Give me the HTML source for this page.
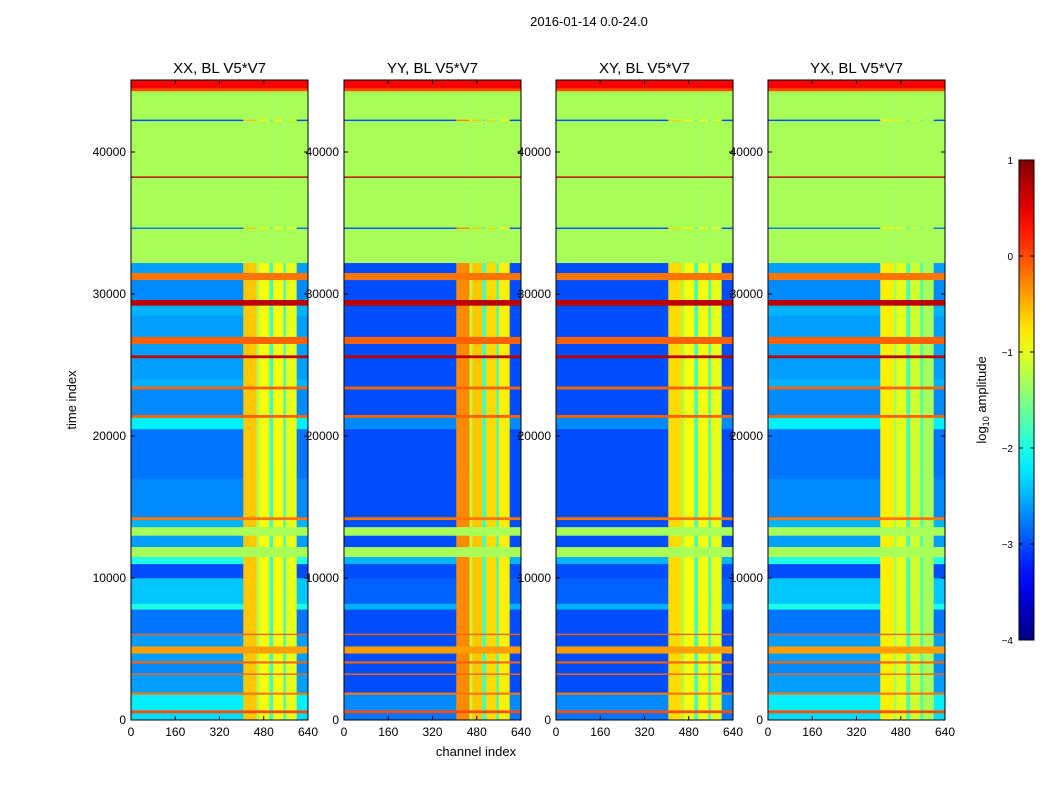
<!DOCTYPE html>
<html><head><meta charset="utf-8"><style>
body{margin:0;background:#fff;font-family:"Liberation Sans",sans-serif}
svg text{font-family:"Liberation Sans",sans-serif}
</style></head><body>
<svg id="fig" width="1050" height="800" xmlns="http://www.w3.org/2000/svg">
<rect width="1050" height="800" fill="#fff"/>
<text x="589" y="26" font-size="13" text-anchor="middle">2016-01-14 0.0-24.0</text>
<text transform="translate(76,400) rotate(-90)" font-size="13" text-anchor="middle">time index</text>
<text x="476" y="756" font-size="13" text-anchor="middle">channel index</text>
<g id="panels"></g>
<g id="cbar"></g>
<text transform="translate(986,400) rotate(-90)" font-size="13" text-anchor="middle">log<tspan font-size="9" dy="3">10</tspan><tspan dy="-3"> amplitude</tspan></text>
</svg>
<script>
const panelTitles = ["XX, BL V5*V7","YY, BL V5*V7","XY, BL V5*V7","YX, BL V5*V7"];
const bandStarts = [0,500,700,1800,1950,3200,3300,4000,4150,4700,5200,6000,6100,7800,8200,10000,11000,11500,12200,13000,13600,14100,14300,17000,20500,21300,21500,23300,23500,24000,25500,25700,26500,27000,28500,29200,29600,31000,31500,32200,34600,34700,38200,38300,42200,42300,44300,44500];
const bandLevels = [-2.3,0,-2.2,-0.2,-2.6,-0.1,-2.7,-0.1,-2.6,-0.4,-2.6,-0.1,-2.8,-2.0,-2.4,-3.0,-2.0,-1.3,-2.6,-1.3,-2.5,-0.2,-2.7,-2.8,-2.2,-0.1,-2.7,-0.1,-2.5,-2.6,0.7,-2.6,-0.1,-2.6,-2.5,0.7,-2.7,-0.2,-2.6,-1.3,-2.8,-1.3,0.7,-1.3,-3.0,-1.3,0,0.4];
const tMax = 45070;
const panelOffsets = [0,-0.5,-0.5,0];
const chanEdges = [0,406,454,464,500,514,551,560,599,640];
const stripeLevels = [
 [-3,-0.6,-1.3,-0.9,-1.8,-0.9,-1.8,-1.0,-3],
 [-3,-0.3,-1.2,-0.6,-1.8,-0.7,-1.8,-0.8,-3],
 [-3,-0.7,-1.3,-0.9,-1.8,-0.9,-1.8,-1.0,-3],
 [-3,-0.8,-1.3,-1.0,-1.8,-1.1,-1.8,-1.3,-3]
];
const yTicks = [0,10000,20000,30000,40000];
const xTicks = [0,160,320,480,640];
const cbTicks = [1,0,-1,-2,-3,-4];
const panelX = [131,344,556,768];
const pw = 177, plotTop = 80, plotBottom = 720;
const NS = "http://www.w3.org/2000/svg";
function jet(v){
  let t=(v+4)/5; t=Math.max(0,Math.min(1,t));
  const c=x=>Math.round(255*Math.max(0,Math.min(1,x)));
  const r=c(Math.min(4*t-1.5,-4*t+4.5)), g=c(Math.min(4*t-0.5,-4*t+3.5)), b=c(Math.min(4*t+0.5,-4*t+2.5));
  return `rgb(${r},${g},${b})`;
}
function mk(tag,attrs,parent){const e=document.createElementNS(NS,tag);for(const k in attrs)e.setAttribute(k,attrs[k]);parent.appendChild(e);return e;}
const yS = t => plotBottom - (t/tMax)*(plotBottom-plotTop);
const panels = document.getElementById("panels");
panelTitles.forEach((title,p)=>{
  const x0=panelX[p]; const xS=c=>x0+c/640*pw;
  const g=mk("g",{},panels);
  
  
  for(let b=0;b<bandStarts.length;b++){
    const t0=bandStarts[b], t1=b+1<bandStarts.length?bandStarts[b+1]:tMax;
    const raw=bandLevels[b];
    let base=raw; if(raw<-1.5) base+=panelOffsets[p];
    for(let c=0;c<chanEdges.length-1;c++){
      const v = raw<-1.5 ? Math.max(base,stripeLevels[p][c]) : base;
      const r=mk("rect",{x:xS(chanEdges[c]),y:yS(t1),width:xS(chanEdges[c+1])-xS(chanEdges[c])+0.3,height:yS(t0)-yS(t1)+0.3,fill:jet(v)},g);
      
      
    }
  }
  mk("rect",{x:x0,y:plotTop,width:pw,height:plotBottom-plotTop,fill:"none",stroke:"#000","stroke-width":1},g);
  const tt=mk("text",{x:x0+pw/2,y:plotTop-7,"font-size":15,"text-anchor":"middle"},g); tt.textContent=title;
  
  
  yTicks.forEach(t=>{const y=yS(t);
    mk("line",{x1:x0,x2:x0+4,y1:y,y2:y,stroke:"#000"},g);mk("line",{x1:x0+pw-4,x2:x0+pw,y1:y,y2:y,stroke:"#000"},g);
    const l=mk("text",{x:x0-5,y:y+4,"font-size":12,"text-anchor":"end"},g);l.textContent=t;
    
    });
  xTicks.forEach(c=>{const x=xS(c);
    mk("line",{x1:x,x2:x,y1:plotBottom,y2:plotBottom-4,stroke:"#000"},g);mk("line",{x1:x,x2:x,y1:plotTop,y2:plotTop+4,stroke:"#000"},g);
    const l=mk("text",{x:x,y:plotBottom+16,"font-size":12,"text-anchor":"middle"},g);l.textContent=c;
    
    });
});
const cb=document.getElementById("cbar"); const cbx=1019,cbw=15,cbt=160,cbb=640;
const cbY=v=>cbb-(v+4)/5*(cbb-cbt);
const defs=mk("defs",{},cb); const lg=mk("linearGradient",{id:"jg",x1:0,y1:1,x2:0,y2:0},defs);
for(let i=0;i<=20;i++){mk("stop",{offset:i/20,"stop-color":jet(-4+5*i/20)},lg);}
mk("rect",{x:cbx,y:cbt,width:cbw,height:cbb-cbt,fill:"url(#jg)",stroke:"#000"},cb);
cbTicks.forEach(v=>{const y=cbY(v);
  mk("line",{x1:cbx,x2:cbx+4,y1:y,y2:y,stroke:"#000"},cb);mk("line",{x1:cbx+cbw-4,x2:cbx+cbw,y1:y,y2:y,stroke:"#000"},cb);
  const l=mk("text",{x:cbx-6,y:y+4,"font-size":10,"text-anchor":"end"},cb);l.textContent=v<0?"\u2212"+(-v):v;
  
  });
</script>
</body></html>
